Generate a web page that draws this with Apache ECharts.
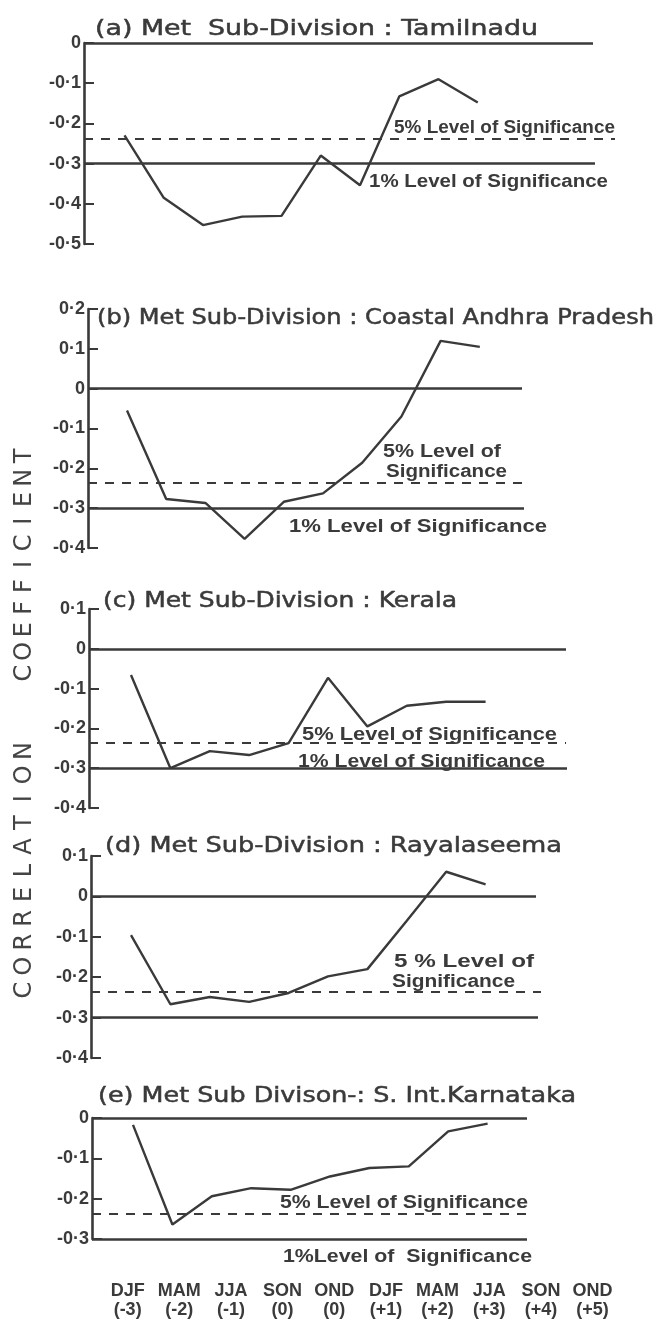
<!DOCTYPE html>
<html><head><meta charset="utf-8">
<script src="https://cdn.jsdelivr.net/npm/echarts@6/dist/echarts.min.js"></script>
<style>html,body{margin:0;padding:0;background:#fff;}#c{width:655px;height:1322px;}</style>
</head><body><div id="c"></div>
<script>
// ---- data ----
const seasons = ['DJF','MAM','JJA','SON','OND','DJF','MAM','JJA','SON','OND'];
const lags = ['(-3)','(-2)','(-1)','(0)','(0)','(+1)','(+2)','(+3)','(+4)','(+5)'];
const tamilnadu     = [-0.23, -0.385, -0.453, -0.432, -0.43, -0.28, -0.354, -0.133, -0.09, -0.148];
const coastalAndhra = [-0.055, -0.277, -0.287, -0.377, -0.284, -0.263, -0.186, -0.07, 0.12, 0.105];
const kerala        = [-0.066, -0.30, -0.257, -0.267, -0.237, -0.073, -0.195, -0.143, -0.133, -0.133];
const rayalaseema   = [-0.096, -0.267, -0.249, -0.261, -0.239, -0.198, -0.18, -0.06, 0.061, 0.03];
const sIntKarnataka = [-0.017, -0.264, -0.194, -0.174, -0.178, -0.145, -0.124, -0.12, -0.033, -0.014];
const sig5 = -0.237;
const sig1 = -0.30;
const yMins = [-0.5, -0.4, -0.4, -0.4, -0.3];
const yMaxs = [0, 0.2, 0.1, 0.1, 0];
const panelTitles = [
  '(a) Met  Sub-Division : Tamilnadu',
  '(b) Met Sub-Division : Coastal Andhra Pradesh',
  '(c) Met Sub-Division : Kerala',
  '(d) Met Sub-Division : Rayalaseema',
  '(e) Met Sub Divison-: S. Int.Karnataka'
];
const axisTitle1 = 'CORRELATION';
const axisTitle2 = 'COEFFICIENT';

// ---- layout / style ----
const series5 = [tamilnadu, coastalAndhra, kerala, rayalaseema, sIntKarnataka];
const INK = '#3a3a3a';
const layout = [
  {axisX:84, p1X:124.5, step:39.25, top:43,  bottom:244,  zeroEnd:593, oneEnd:595, fiveEnd:615,
   title:{x:95, w:443, y:30},
   labels:[{t:'5% Level of Significance', x:394, w:221, y:128},
           {t:'1% Level of Significance', x:369, w:239, y:182}]},
  {axisX:88, p1X:127, step:39.2, top:309, bottom:548, zeroEnd:522, oneEnd:524, fiveEnd:524,
   title:{x:97, w:557, y:319},
   labels:[{t:'5% Level of', x:383, w:118, y:452},
           {t:'Significance', x:386, w:121, y:472},
           {t:'1% Level of Significance', x:289, w:258, y:527}]},
  {axisX:89, p1X:131, step:39.4, top:609, bottom:808, zeroEnd:566, oneEnd:567, fiveEnd:566,
   title:{x:103, w:354, y:602},
   labels:[{t:'5% Level of Significance', x:302, w:255, y:735},
           {t:'1% Level of Significance', x:298, w:247, y:762}]},
  {axisX:91, p1X:131, step:39.4, top:856, bottom:1058, zeroEnd:536, oneEnd:538, fiveEnd:541,
   title:{x:105, w:457, y:847},
   labels:[{t:'5 % Level of', x:394, w:140, y:962},
           {t:'Significance', x:392, w:123, y:982}]},
  {axisX:92, p1X:133, step:39.4, top:1118, bottom:1239, zeroEnd:527, oneEnd:527, fiveEnd:528,
   title:{x:98, w:478, y:1097},
   labels:[{t:'5% Level of Significance', x:280, w:248, y:1203},
           {t:'1%Level of  Significance', x:283, w:249, y:1257}]}
];

const mctx = document.createElement('canvas').getContext('2d');
function measure(text, font){ mctx.font = font; return mctx.measureText(text).width; }
function fitText(text, font, x, w, y, strokeW){
  const nat = measure(text, font);
  const style = {text:text, font:font, fill:INK, textAlign:'left', textVerticalAlign:'middle', align:'left', verticalAlign:'middle'};
  if (strokeW) { style.stroke = INK; style.lineWidth = strokeW; }
  return {type:'text', x:x, y:y, scaleX: w/nat, silent:true, style:style};
}
const TITLE_FONT = '21px "DejaVu Sans"';
const LABEL_FONT = 'bold 18px "Liberation Sans"';

const grids = [], xAxes = [], yAxes = [], series = [], graphics = [];
layout.forEach((L, i) => {
  const right = 640;
  const xmin = (L.axisX - L.p1X) / L.step;
  const xmax = (right - L.p1X) / L.step;
  const px = p => (p - L.p1X) / L.step;
  grids.push({left:L.axisX, top:L.top, width:right - L.axisX, height:L.bottom - L.top});
  xAxes.push({type:'value', gridIndex:i, min:xmin, max:xmax, show:false});
  yAxes.push({type:'value', gridIndex:i, min:yMins[i], max:yMaxs[i], interval:0.1,
    axisLine:{show:true, onZero:false, lineStyle:{color:INK, width:2.6}},
    axisTick:{show:true, inside:true, length:10, lineStyle:{color:INK, width:2}},
    splitLine:{show:false},
    axisLabel:{margin:3, color:INK, fontFamily:'Liberation Sans', fontWeight:'bold', fontSize:18,
      formatter: v => { const r = Math.round(v*10)/10; return r === 0 ? '0' : String(r).replace('.', '\u00b7'); }}
  });
  const solid = {color:INK, width:2.6, type:'solid'};
  series.push({type:'line', xAxisIndex:i, yAxisIndex:i, clip:false, animation:false,
    data: series5[i].map((v, k) => [k, v]), symbol:'none',
    lineStyle:{color:INK, width:2.4},
    markLine:{silent:true, symbol:['none','none'], label:{show:false}, animation:false,
      data:[
        [{coord:[xmin, 0], lineStyle:solid}, {coord:[px(L.zeroEnd), 0]}],
        [{coord:[xmin, sig1], lineStyle:solid}, {coord:[px(L.oneEnd), sig1]}],
        [{coord:[xmin, sig5], lineStyle:{color:INK, width:2.2, type:[9,8]}}, {coord:[px(L.fiveEnd), sig5]}]
      ]}
  });
  graphics.push(fitText(panelTitles[i], TITLE_FONT, L.title.x, L.title.w, L.title.y, 0.5));
  L.labels.forEach(lb => graphics.push(fitText(lb.t, LABEL_FONT, lb.x, lb.w, lb.y)));
});

// x-axis labels in their own grid
grids.push({left:101.8, width:516.6, top:1276, height:2});
xAxes.push({type:'category', gridIndex:5, data: seasons.map((s, k) => s + '\n' + lags[k]),
  axisLine:{show:false}, axisTick:{show:false},
  axisLabel:{interval:0, margin:4, color:INK, fontFamily:'Liberation Sans', fontWeight:'bold', fontSize:18, lineHeight:19}});
yAxes.push({type:'value', gridIndex:5, show:false});
series.push({type:'scatter', xAxisIndex:5, yAxisIndex:5, data:[], silent:true});

// vertical axis title, one letter at a time
function placeWord(word, yBottom, yTop){
  const n = word.length, st = (yBottom - yTop) / (n - 1);
  for (let k = 0; k < n; k++) {
    graphics.push({type:'text', x:25, y:yBottom - k*st, rotation:Math.PI/2, silent:true,
      style:{text:word[k], font:'24px "DejaVu Sans"', fill:'#444', textAlign:'center', textVerticalAlign:'middle', align:'center', verticalAlign:'middle'}});
  }
}
placeWord(axisTitle1, 990, 751);
placeWord(axisTitle2, 673, 456);

const chart = echarts.init(document.getElementById('c'), null, {renderer:'canvas'});
chart.setOption({animation:false, backgroundColor:'#fff', grid:grids, xAxis:xAxes, yAxis:yAxes, series:series, graphic:graphics});
</script></body></html>
